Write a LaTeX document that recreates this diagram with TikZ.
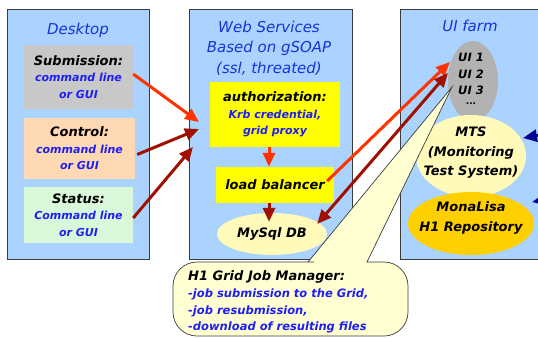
\documentclass[tikz,border=0pt]{standalone}
\usepackage{fontspec}
\setmainfont{DejaVu Sans}
\usetikzlibrary{arrows.meta,calc,shapes.geometric}

\definecolor{panelblue}{RGB}{170,212,255}
\definecolor{panelline}{RGB}{60,60,60}
\definecolor{titleblue}{RGB}{25,50,215}
\definecolor{subblue}{RGB}{30,30,245}
\definecolor{subgray}{RGB}{200,200,200}
\definecolor{ctlpeach}{RGB}{255,217,180}
\definecolor{stsgreen}{RGB}{217,248,217}
\definecolor{boxyellow}{RGB}{255,255,0}
\definecolor{paleyellow}{RGB}{255,250,185}
\definecolor{monagold}{RGB}{255,208,0}
\definecolor{uigray}{RGB}{178,178,178}
\definecolor{calloutfill}{RGB}{255,255,210}
\definecolor{arrred}{RGB}{255,51,0}
\definecolor{arrdark}{RGB}{160,16,0}
\definecolor{arrnavy}{RGB}{0,0,150}

% heading line (black) and body lines (blue)
\newcommand\hdf{\fontsize{13}{16.5}\selectfont\bfseries\itshape\color{black}}
\newcommand\blf{\fontsize{11}{16.5}\selectfont\bfseries\itshape}

\tikzset{
  panel/.style={draw=panelline, line width=0.8pt, fill=panelblue, inner sep=0pt},
  bodytext/.style={font=\blf, text=subblue},
  flatbox/.style={inner sep=0pt, align=center, bodytext},
  blob/.style={ellipse, inner sep=0pt},
  label text/.style={inner sep=0pt, align=center},
  titletext/.style={label text, font=\fontsize{15}{20.5}\selectfont\itshape, text=titleblue},
  darktext/.style={label text, font=\fontsize{13}{19.5}\selectfont\bfseries\itshape, text=black},
  uitext/.style={label text, font=\fontsize{11.5}{14}\selectfont\bfseries\itshape, text=black},
  tip/.style={-{Triangle[length=14pt,width=12pt]}},
  redarrow/.style={tip, draw=arrred, fill=arrred, line width=3pt},
  darkarrow/.style={tip, draw=arrdark, fill=arrdark, line width=3pt},
  navyarrow/.style={tip, draw=arrnavy, fill=arrnavy, line width=3pt},
  callout/.style={draw=panelline, line width=0.7pt, fill=calloutfill},
}

\begin{document}
\begin{tikzpicture}[x=1pt,y=-1pt]
\useasboundingbox (0,0) rectangle (538,338);
\clip (0,0) rectangle (538,338);

% three panels
\node[panel, minimum width=142, minimum height=250] (desk) at (78,134) {};
\node[panel, minimum width=163, minimum height=250] (web) at (270.5,134) {};
\node[panel, minimum width=160, minimum height=250] (farm) at (480,134) {};

% panel titles
\node[titletext] (desktitle) at (78,30) {Desktop};
\node[titletext] (webtitle) at (269,48) {Web Services\\Based on gSOAP\\(ssl, threated)};
\node[titletext] (farmtitle) at (470,26) {UI farm};

% desktop clients
\node[flatbox, fill=subgray, minimum width=109, minimum height=64] (sub) at (78.5,77)
  {\hdf Submission:\\command line\\or GUI};
\node[flatbox, fill=ctlpeach, minimum width=111, minimum height=61] (ctl) at (79.5,148.5)
  {\hdf Control:\\command line\\or GUI};
\node[flatbox, fill=stsgreen, minimum width=109, minimum height=56] (sts) at (78.5,215)
  {\hdf Status:\\Command line\\or GUI};

% web services internals
\node[flatbox, fill=boxyellow, minimum width=130, minimum height=65] (auth) at (275,114.5)
  {\hdf authorization:\\Krb credential,\\grid proxy};
\node[flatbox, fill=boxyellow, minimum width=118, minimum height=36] (lb) at (275,185)
  {\hdf load balancer};
\node[blob, fill=paleyellow, minimum width=110, minimum height=42, font=\hdf] (mysql) at (272,234)
  {MySql DB};

% UI farm internals
\node[blob, fill=uigray, minimum width=50, minimum height=80] (uis) at (473,81) {};
\node[uitext] (ui1) at (471,57) {UI 1};
\node[uitext] (ui2) at (471,74) {UI 2};
\node[uitext] (ui3) at (471,90) {UI 3};
\node[uitext, font=\fontsize{9}{10}\selectfont\bfseries] (uidots) at (471,104) {...};
\node[blob, fill=paleyellow, minimum width=110, minimum height=82] (mts) at (471,156) {};
\node[darktext] (mtstext) at (471,153) {MTS\\(Monitoring\\Test System)};
\node[blob, fill=monagold, minimum width=126, minimum height=63] (mona) at (471,223.5) {};
\node[darktext] (monatext) at (471,218) {MonaLisa\\H1 Repository};

% end points of connectors
\coordinate (wsin1) at (199,122);
\coordinate (wsin2) at (199,129);
\coordinate (wsin3) at (193,147);
\coordinate (ui1tip) at (450,62);
\coordinate (ui2tip) at (448,73);
\coordinate (calltip) at (452,87);
\coordinate (eastin1) at (565,131);
\coordinate (eastin2) at (565,196);
\coordinate (mtsin) at (523,138);
\coordinate (monain) at (532,202);

% desktop to web services
\draw[redarrow] ($(sub.east)+(0,-3)$) -- (wsin1);
\draw[darkarrow] ($(ctl.east)+(2,6)$) -- (wsin2);
\draw[darkarrow] ($(sts.east)+(0,3)$) -- (wsin3);

% inside web services
\draw[redarrow] ($(auth.south)+(-6,0)$) -- ($(lb.north)+(-6,0)$);
\draw[darkarrow] ($(lb.south)+(-6,0)$) -- ($(mysql.north)+(-3,9)$);

% web services to UI farm
\draw[redarrow] ($(lb.east)+(-7,-4)$) -- (ui1tip);
\draw[darkarrow, {Triangle[length=14pt,width=12pt]}-{Triangle[length=14pt,width=12pt]}]
  ($(mysql.east)+(-10,-10)$) -- (ui2tip);

% incoming from the right
\draw[navyarrow] (eastin1) -- (mtsin);
\draw[navyarrow] (eastin2) -- (monain);

% job manager callout
\draw[callout] (308,262) -- (calltip) -- (367,262) -- (384,262)
  [rounded corners=24] -- (408,262) -- (408,336) -- (173,336) -- (173,262)
  -- (290,262) [sharp corners] -- cycle;
\node[label text, anchor=west, align=left, bodytext, font=\fontsize{11.5}{16.7}\selectfont\bfseries\itshape] (gjm) at (188,302)
  {\hdf H1 Grid Job Manager:\\-job submission to the Grid,\\-job resubmission,\\-download of resulting files};
\end{tikzpicture}
\end{document}
